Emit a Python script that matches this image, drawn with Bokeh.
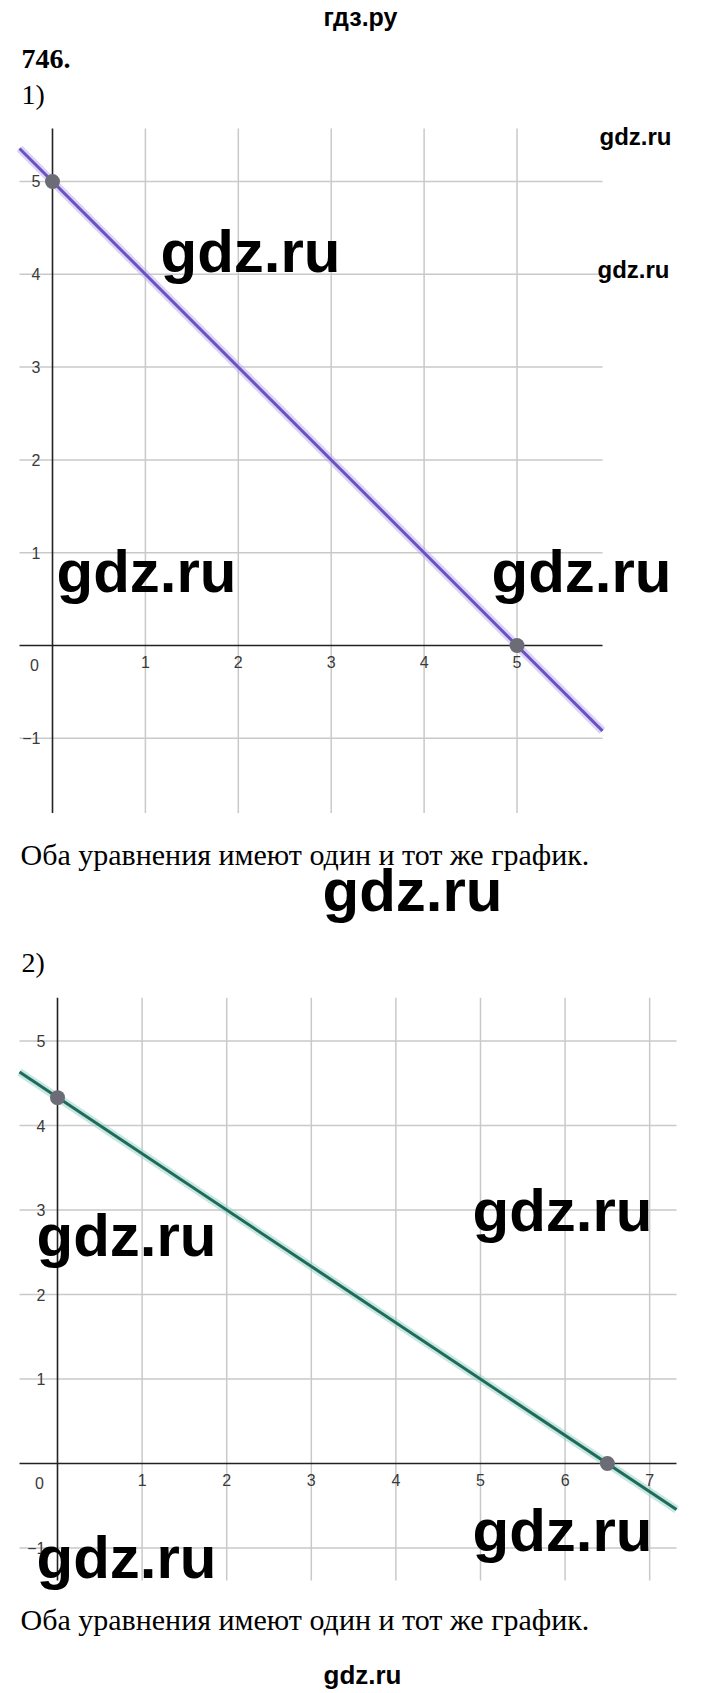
from bokeh.plotting import figure
from bokeh.models import Range1d, FixedTicker, Label
from bokeh.layouts import column
from bokeh.embed import file_html
from bokeh.resources import INLINE

# ---------------- data ----------------
# Task 1: x + y = 5 (both equations give the same line)
c1_line_x = [-0.355, 5.92]
c1_line_y = [5.355, -0.92]
c1_pts_x = [0, 5]
c1_pts_y = [5, 0]
c1_xticks = [1, 2, 3, 4, 5]
c1_yticks = [-1, 1, 2, 3, 4, 5]

# Task 2: 2x + 3y = 13 (both equations give the same line)
c2_line_x = [-0.449, 7.317]
c2_line_y = [4.632, -0.545]
c2_pts_x = [0, 6.5]
c2_pts_y = [4.33, 0]
c2_xticks = [1, 2, 3, 4, 5, 6, 7]
c2_yticks = [-1, 1, 2, 3, 4, 5]

caption = "Оба уравнения имеют один и тот же график."
title_num = "746."
part1 = "1)"
part2 = "2)"
site_ru = "гдз.ру"
wm = "gdz.ru"

PAGE_W = 704
SANS = "Liberation Sans"
SERIF = "Liberation Serif"
ADJ = 0.275  # baseline correction (em) so that glyph baselines land where intended


def text_fig(h):
    p = figure(width=PAGE_W, height=h, x_range=Range1d(0, PAGE_W), y_range=Range1d(h, 0),
               output_backend="svg", toolbar_location=None, min_border=0,
               x_axis_location=None, y_axis_location=None)
    p.grid.visible = False
    p.outline_line_color = None
    return p


def add_text(p, x, y, txt, size, font=SANS, style="normal", align="left", color="black"):
    p.add_layout(Label(x=x, y=y - ADJ * size, text=txt, text_font=font, text_font_size=f"{size}px",
                       text_font_style=style, text_align=align, text_baseline="alphabetic",
                       text_color=color))


def add_screen_text(p, x, y, txt, size, frame_bottom, font=SANS, style="normal"):
    p.add_layout(Label(x=x, y=frame_bottom - (y - ADJ * size), x_units="screen", y_units="screen",
                       text=txt, text_font=font, text_font_size=f"{size}px", text_font_style=style,
                       text_baseline="alphabetic", text_color="black"))


def lbl(t):
    return ("\u2212" + str(abs(t))) if t < 0 else str(t)


def chart(h, xr, yr, xlim, ylim, line_x, line_y, pts_x, pts_y, xt, yt, col, halo):
    p = figure(width=PAGE_W, height=h, x_range=Range1d(*xr), y_range=Range1d(*yr),
               output_backend="svg", toolbar_location=None, min_border=0)
    p.outline_line_color = None
    p.grid.visible = False
    # grid lines, limited to the graph area
    p.segment(x0=xt, y0=[ylim[0]] * len(xt), x1=xt, y1=[ylim[1]] * len(xt),
              line_color="#c9c9c9", line_width=1.5, level="image")
    p.segment(x0=[xlim[0]] * len(yt), y0=yt, x1=[xlim[1]] * len(yt), y1=yt,
              line_color="#c9c9c9", line_width=1.5, level="image")
    for ax, ticks, bnd in ((p.xaxis, xt, xlim), (p.yaxis, yt, ylim)):
        ax.fixed_location = 0
        ax.bounds = bnd
        ax.ticker = FixedTicker(ticks=ticks)
        ax.major_label_overrides = {t: lbl(t) for t in ticks}
        ax.major_tick_out = 0
        ax.major_tick_in = 0
        ax.minor_tick_out = 0
        ax.minor_tick_in = 0
        ax.axis_line_color = "#222222"
        ax.axis_line_width = 1.6
        ax.major_label_text_font = SANS
        ax.major_label_text_font_size = "16px"
        ax.major_label_text_color = "#3a3a3a"
        ax.level = "underlay"
    p.xaxis.major_label_standoff = 10
    p.yaxis.major_label_standoff = 12
    p.add_layout(Label(x=0, y=0, text="0", x_offset=-18, y_offset=-19, text_font=SANS,
                       text_font_size="16px", text_color="#3a3a3a", text_align="center",
                       text_baseline="middle", level="underlay"))
    p.line(line_x, line_y, line_color=halo, line_width=8, line_alpha=0.5)
    p.line(line_x, line_y, line_color=col, line_width=3)
    p.scatter(pts_x, pts_y, size=15, fill_color="#6c6c76", line_color=None)
    return p


# ---------- header (page y 0..80) ----------
H = text_fig(80)
add_text(H, 360, 23, site_ru, 25, style="bold", align="center")
add_text(H, 21, 66, title_num, 28, font=SERIF, style="bold")

# ---------- chart 1 (page y 80..813; graph area 128..813) ----------
F1 = chart(733, (-0.5597, 7.018), (-1.81, 6.088), (-0.355, 5.92), (-1.81, 5.571),
           c1_line_x, c1_line_y, c1_pts_x, c1_pts_y, c1_xticks, c1_yticks,
           "#6a52c2", "#b9a8ee")
add_screen_text(F1, 21, 102, part1, 28, 813, font=SERIF)
for (px, py, s) in [(599, 143, 24), (597, 276, 24), (160, 267, 60), (56, 587, 60), (491, 587, 60)]:
    add_screen_text(F1, px, py, wm, s, 813, style="bold")

# ---------- text block (page y 813..997) ----------
T1 = text_fig(184)
add_text(T1, 20, 862 - 813, caption, 30, font=SERIF)
add_text(T1, 322, 906 - 813, wm, 60, style="bold")
add_text(T1, 21, 970 - 813, part2, 28, font=SERIF)

# ---------- chart 2 (page y 997..1590; graph area 997..1580) ----------
F2 = chart(593, (-0.674, 7.648), (-1.503, 5.515), (-0.449, 7.317), (-1.385, 5.515),
           c2_line_x, c2_line_y, c2_pts_x, c2_pts_y, c2_xticks, c2_yticks,
           "#1d6b5c", "#8fd0c0")
for (px, py, s) in [(472, 1226, 60), (36, 1251, 60), (472, 1546, 60), (36, 1573, 60)]:
    add_screen_text(F2, px, py, wm, s, 1590, style="bold")

# ---------- bottom text (page y 1590..1690) ----------
T2 = text_fig(100)
add_text(T2, 20, 1627 - 1590, caption, 30, font=SERIF)
add_text(T2, 362, 1682 - 1590, wm, 26, style="bold", align="center")

layout = column(H, F1, T1, F2, T2, spacing=0)
open("out.html", "w").write(file_html(layout, INLINE))
